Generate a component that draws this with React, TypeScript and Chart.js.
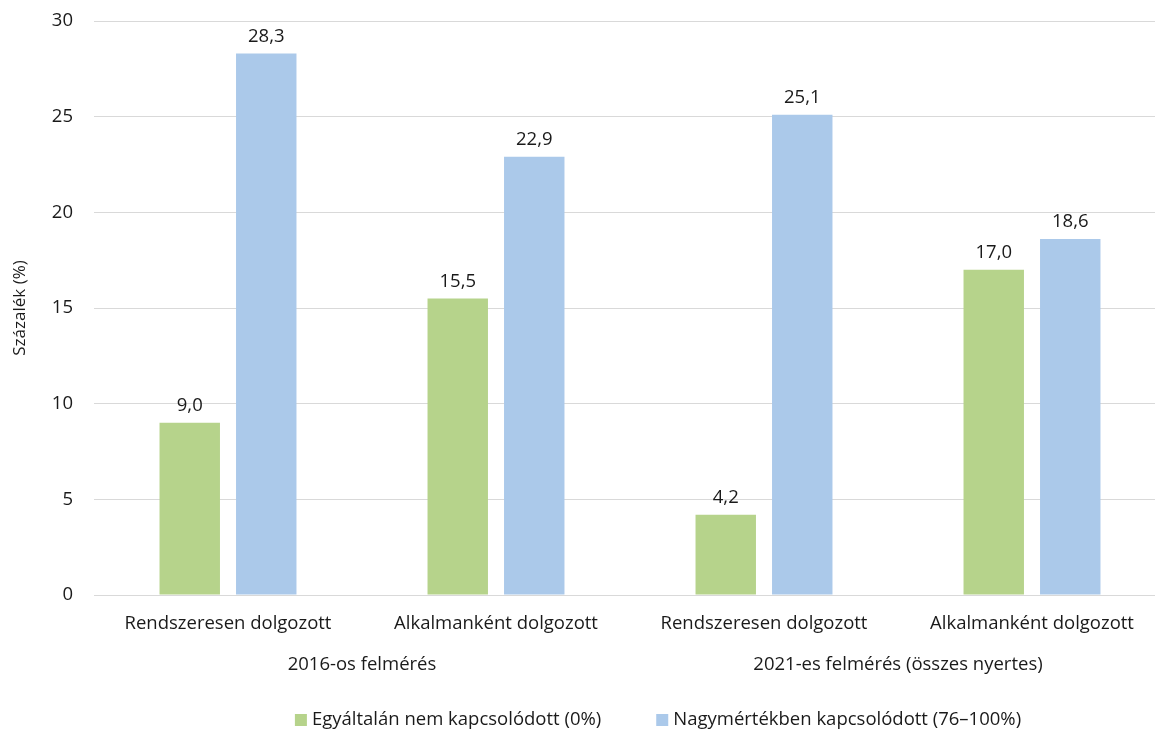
import React, { useEffect, useRef } from "react";
import { Chart, registerables } from "chart.js";

Chart.register(...registerables);

const categories = [
  "Rendszeresen dolgozott",
  "Alkalmanként dolgozott",
  "Rendszeresen dolgozott",
  "Alkalmanként dolgozott",
];
const groupLabels = ["2016-os felmérés", "2021-es felmérés (összes nyertes)"];
const seriesNames = [
  "Egyáltalán nem kapcsolódott (0%)",
  "Nagymértékben kapcsolódott (76–100%)",
];
const notConnected = [9.0, 15.5, 4.2, 17.0];
const highlyConnected = [28.3, 22.9, 25.1, 18.6];
const yTicks = [0, 5, 10, 15, 20, 25, 30];

const GREEN = "#B6D38B";
const BLUE = "#ABC9EA";
const TEXT = "#1a1a1a";
const FONT = "'Open Sans', Lato, sans-serif";
const FS = 18.5;

const valueLabels = {
  id: "valueLabels",
  afterDatasetsDraw(chart: any) {
    const ctx = chart.ctx;
    ctx.save();
    ctx.font = `${FS}px ${FONT}`;
    ctx.fillStyle = TEXT;
    ctx.textAlign = "center";
    ctx.textBaseline = "middle";
    chart.data.datasets.forEach((ds: any, i: number) => {
      const meta = chart.getDatasetMeta(i);
      meta.data.forEach((el: any, j: number) => {
        const v = ds.data[j] as number;
        ctx.fillText(v.toFixed(1).replace(".", ","), el.x, el.y - 17);
      });
    });
    ctx.restore();
  },
};

const customLegend = {
  id: "customLegend",
  afterDraw(chart: any) {
    const ctx = chart.ctx;
    ctx.save();
    ctx.font = `${FS}px ${FONT}`;
    ctx.textBaseline = "middle";
    ctx.textAlign = "left";
    const box = 12;
    const gap = 5;
    const between = 55;
    const items = chart.data.datasets.map((ds: any) => ({
      label: ds.label as string,
      color: ds.backgroundColor as string,
      w: box + gap + ctx.measureText(ds.label).width,
    }));
    const total = items.reduce((s: number, it: any) => s + it.w, 0) + between * (items.length - 1);
    const center = 658;
    let x = center - total / 2;
    const y = 720;
    items.forEach((it: any) => {
      ctx.fillStyle = it.color;
      ctx.fillRect(x, y - box / 2, box, box);
      ctx.fillStyle = TEXT;
      ctx.fillText(it.label, x + box + gap, y);
      x += it.w + between;
    });
    ctx.restore();
  },
};

export default function App() {
  const ref = useRef<HTMLCanvasElement>(null);
  useEffect(() => {
    if (!ref.current) return;
    const chart = new Chart(ref.current, {
      type: "bar",
      data: {
        labels: categories,
        datasets: [
          {
            label: seriesNames[0],
            data: notConnected,
            backgroundColor: GREEN,
            categoryPercentage: 0.571,
            barPercentage: 0.79,
          },
          {
            label: seriesNames[1],
            data: highlyConnected,
            backgroundColor: BLUE,
            categoryPercentage: 0.571,
            barPercentage: 0.79,
          },
        ],
      },
      options: {
        animation: false,
        responsive: false,
        maintainAspectRatio: false,
        layout: { padding: { top: 21, right: 0, left: 0, bottom: 54 } },
        plugins: {
          legend: { display: false },
          tooltip: { enabled: false },
        },
        scales: {
          x: {
            grid: { display: false, drawTicks: false },
            border: { display: true, color: "#D9D9D9", width: 1 },
            ticks: { color: TEXT, font: { size: FS, family: FONT }, padding: 18, maxRotation: 0, autoSkip: false },
            afterFit: (scale: any) => {
              scale.height = 40;
            },
          },
          x2: {
            type: "category",
            labels: groupLabels,
            position: "bottom",
            grid: { display: false, drawTicks: false },
            border: { display: false },
            ticks: { color: TEXT, font: { size: FS, family: FONT }, padding: 19, maxRotation: 0, autoSkip: false },
            afterFit: (scale: any) => {
              scale.height = 41;
            },
          },
          y: {
            min: 0,
            max: 30,
            afterBuildTicks: (scale: any) => {
              scale.ticks = yTicks.map((v) => ({ value: v }));
            },
            afterFit: (scale: any) => {
              scale.width = 94;
              scale.paddingTop = 0;
              scale.paddingBottom = 0;
            },
            grid: { color: "#D9D9D9", drawTicks: false },
            border: { display: false },
            ticks: { color: TEXT, font: { size: FS, family: FONT }, padding: 21 },
            title: {
              display: true,
              text: "Százalék (%)",
              color: TEXT,
              font: { size: 17, family: FONT },
              padding: { top: 10, bottom: 0 },
            },
          },
        },
      },
      plugins: [valueLabels, customLegend],
    });
    return () => chart.destroy();
  }, []);
  return (
    <div style={{ position: "fixed", left: 0, top: 0, width: 1155, height: 730, overflow: "hidden", background: "#fff" }}>
      <canvas ref={ref} width={1166} height={730} style={{ display: "block" }} />
    </div>
  );
}
